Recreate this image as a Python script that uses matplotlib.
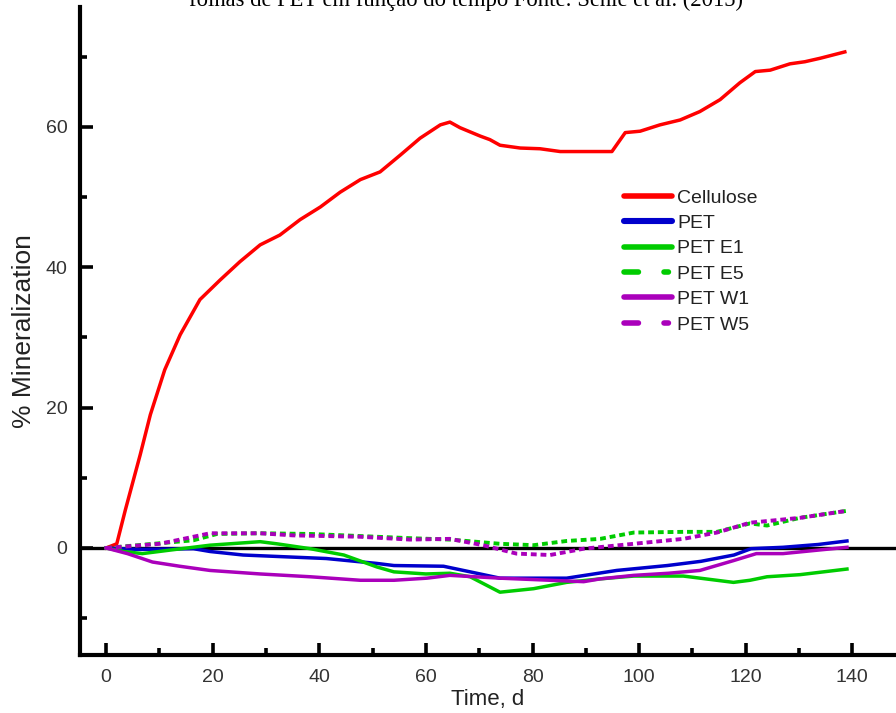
import numpy as np
from matplotlib import pyplot as plt
from matplotlib.lines import Line2D
from matplotlib.ticker import MultipleLocator

# time (days) and % mineralization
cell_t = [0, 2, 3.6, 6.4, 8.3, 11, 13.9, 17.6, 21.4, 25.1, 28.9, 32.6, 36.4, 40.2, 43.9,
          47.7, 51.4, 55.2, 58.9, 62.7, 64.5, 66.4, 70.2, 72, 73.9, 77.7, 81.4, 85.2,
          88.9, 92.7, 94.9, 97.4, 100.2, 103.9, 107.7, 111.4, 115.2, 118.9, 121.8,
          124.6, 128.3, 131.1, 134, 138.6]
cell_y = [0, 0.6, 5.4, 13.3, 19, 25.4, 30.4, 35.4, 38.2, 40.8, 43.2, 44.6, 46.8, 48.6, 50.7,
          52.5, 53.6, 56, 58.4, 60.3, 60.7, 59.9, 58.7, 58.2, 57.4, 57, 56.9, 56.5,
          56.5, 56.5, 56.5, 59.2, 59.4, 60.3, 61, 62.2, 63.9, 66.3, 67.9,
          68.1, 69, 69.3, 69.8, 70.7]

pet_t = [0, 6, 16.4, 19.5, 25.7, 35, 41.3, 50.8, 54, 63.3, 68.3, 73.9, 86.4, 95.8,
         105.3, 111.6, 117.8, 121, 127, 133.6, 139]
pet_y = [0, -0.2, -0.1, -0.5, -1, -1.3, -1.5, -2.2, -2.5, -2.6, -3.4, -4.3, -4.3, -3.2,
         -2.5, -1.9, -1, -0.1, 0.1, 0.5, 1]

e1_t = [0, 3.3, 6.8, 12, 19.5, 28.9, 32, 38.3, 44.6, 50.8, 54, 60, 64.5, 68.3, 73.9,
        80.2, 86.4, 92.7, 99, 108.3, 117.7, 120.8, 124, 130.2, 139]
e1_y = [0, -0.5, -0.8, -0.3, 0.4, 0.9, 0.6, -0.1, -1, -2.7, -3.4, -3.7, -3.6, -4.1, -6.3,
        -5.8, -4.9, -4.4, -4, -4, -4.9, -4.6, -4.1, -3.8, -3]

e5_t = [0, 6, 16.4, 20.8, 28.9, 38.3, 47.7, 57, 64.5, 73.9, 80.2, 86.4, 92.7, 99,
        108.3, 114.6, 120.8, 124, 130.2, 139]
e5_y = [0, 0.4, 1.1, 2, 2.1, 2, 1.7, 1.4, 1.2, 0.6, 0.4, 1, 1.3, 2.2,
        2.3, 2.3, 3.5, 3.2, 4.3, 5.3]

w1_t = [0, 4, 8.7, 13.8, 19.5, 28.9, 38.3, 47.7, 54, 60.2, 64.5, 73.9, 83.3, 89.6,
        92.7, 99, 105.5, 111.4, 117.7, 122, 127, 133.6, 139]
w1_y = [0, -0.8, -2, -2.6, -3.2, -3.7, -4.1, -4.6, -4.6, -4.3, -3.9, -4.3, -4.6, -4.8,
        -4.4, -3.9, -3.6, -3.2, -1.8, -0.8, -0.8, -0.3, 0.1]

w5_t = [0, 10.1, 19.5, 28.9, 35, 47.7, 57, 64.5, 70.7, 77, 83.3, 89.6, 99, 108.3,
        114.6, 120.8, 130.2, 139]
w5_y = [0, 0.6, 2.1, 2.1, 1.8, 1.6, 1.2, 1.3, 0.4, -0.8, -1, -0.1, 0.6, 1.3,
        2.2, 3.6, 4.3, 5.3]

labels = ['Cellulose', 'PET', 'PET E1', 'PET E5', 'PET W1', 'PET W5']

plt.rcParams['font.family'] = ['Liberation Sans', 'DejaVu Sans']

fig = plt.figure(figsize=(8.96, 7.13), dpi=100)
ax = fig.add_axes([80 / 896, 58 / 713, 816 / 896, 648 / 713])

ax.axhline(0, color='black', lw=2.4, zorder=1)

red, blue, green, purple = '#ff0000', '#0000cc', '#00cc00', '#aa00bb'
dots = (0, (1.5, 1.0))
ax.plot(cell_t, cell_y, color=red, lw=2.5)
ax.plot(pet_t, pet_y, color=blue, lw=2.5)
ax.plot(e1_t, e1_y, color=green, lw=2.5)
ax.plot(e5_t, e5_y, color=green, lw=2.8, ls=dots)
ax.plot(w1_t, w1_y, color=purple, lw=2.5)
ax.plot(w5_t, w5_y, color=purple, lw=2.8, ls=dots)

ax.set_xlim(-4.9, 148.2)
ax.set_ylim(-15.25, 77.1)
ax.xaxis.set_major_locator(MultipleLocator(20))
ax.xaxis.set_minor_locator(MultipleLocator(10))
ax.yaxis.set_major_locator(MultipleLocator(20))
ax.yaxis.set_minor_locator(MultipleLocator(10))
ax.tick_params(which='both', direction='in', width=2.6, labelsize=14,
               labelcolor='#333333')
ax.tick_params(axis='x', pad=10)
ax.tick_params(axis='y', pad=9)
ax.tick_params(which='major', length=9)
ax.tick_params(which='minor', length=5)

ax.spines['top'].set_visible(False)
ax.spines['right'].set_visible(False)
ax.spines['left'].set_linewidth(3)
ax.spines['bottom'].set_linewidth(3)

ax.set_xlabel('Time, d', fontsize=16, labelpad=2, color='#222222')
ax.set_ylabel('% Mineralization', fontsize=19, labelpad=7, color='#222222')

# legend keys: Origin style, dashed keys are "long dash - gap - dot"
key_dash = (0, (2.6, 4.6, 0.8, 100))
handles = [
    Line2D([], [], color=red, lw=4, solid_capstyle='round'),
    Line2D([], [], color=blue, lw=4.4, solid_capstyle='round'),
    Line2D([], [], color=green, lw=4, solid_capstyle='round'),
    Line2D([], [], color=green, lw=4, ls=key_dash, dash_capstyle='round'),
    Line2D([], [], color=purple, lw=4, solid_capstyle='round'),
    Line2D([], [], color=purple, lw=4, ls=key_dash, dash_capstyle='round'),
]
fig.legend(handles, labels, loc='upper left', bbox_to_anchor=(624 / 896, 1 - 189 / 713),
           frameon=False, fontsize=14, handlelength=2.45, handletextpad=0.3,
           labelspacing=0.4, borderpad=0, borderaxespad=0, labelcolor='#222222')

# caption of the source document, cut at the top of the image
fig.text(0.52, 1 - 6 / 713, 'folhas de PET em função do tempo Fonte: Sehle et al. (2015)',
         ha='center', va='baseline', fontsize=16.3, family='Liberation Serif')

plt.savefig('out.png', dpi=100)
plt.close()
